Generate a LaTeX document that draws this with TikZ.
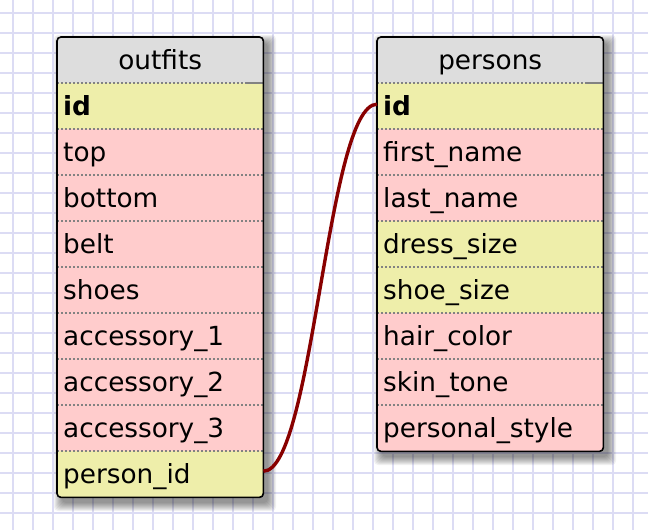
\documentclass[tikz,border=0pt]{standalone}
\usepackage{fontspec}
\setmainfont{DejaVu Sans}
\definecolor{gridc}{RGB}{220,220,244}
\definecolor{headc}{RGB}{221,221,221}
\definecolor{keyc}{RGB}{238,238,170}
\definecolor{fieldc}{RGB}{255,204,204}
\definecolor{sepc}{RGB}{130,130,130}
\definecolor{relc}{RGB}{136,0,0}
\tikzset{
  gridline/.style={draw=gridc, line width=1.3pt},
  cell/.style={rectangle, draw=none, inner xsep=6pt, inner ysep=0pt,
    minimum height=46pt, text height=23pt, text depth=5pt,
    anchor=north west, align=left, font=\fontsize{26.3}{30}\selectfont},
  ocell/.style={cell, text width=194pt},
  pcell/.style={cell, text width=214pt},
  headc/.style={fill=headc, align=center},
  keyrow/.style={fill=keyc},
  fieldrow/.style={fill=fieldc},
  sepline/.style={draw=sepc, line width=1.6pt, dash pattern=on 2pt off 2pt},
  sepsolid/.style={draw=sepc, line width=1.6pt},
  frame/.style={draw=black, line width=1.6pt, rounded corners=4pt},
  shadowlayer/.style={fill=black, opacity=0.055},
  rel/.style={draw=relc, line width=3.4pt}
}
\begin{document}
\begin{tikzpicture}[x=1pt, y=-1pt]
\useasboundingbox (0,0) rectangle (648,530);
\fill[white] (0,0) rectangle (648,530);
% grid
\foreach \gx in {13,33,...,633} \draw[gridline] (\gx,0) -- (\gx,530);
\foreach \gy in {13,33,...,513} \draw[gridline] (0,\gy) -- (648,\gy);
% shadows
\foreach \i in {0,...,8} {
  \fill[shadowlayer, rounded corners=4pt] (57+5-\i,37+6-\i) rectangle (263+5+\i,497+6+\i);
  \fill[shadowlayer, rounded corners=4pt] (377+5-\i,37+6-\i) rectangle (603+5+\i,451+6+\i);
}
% outfits table
\begin{scope}
\clip[rounded corners=4pt] (57,37) rectangle (263,497);
\node[ocell, headc] (o-head) at (57,37) {outfits};
\node[ocell, keyrow] (o-id) at (57,83) {\bfseries id};
\node[ocell, fieldrow] (o-top) at (57,129) {top};
\node[ocell, fieldrow] (o-bottom) at (57,175) {bottom};
\node[ocell, fieldrow] (o-belt) at (57,221) {belt};
\node[ocell, fieldrow] (o-shoes) at (57,267) {shoes};
\node[ocell, fieldrow] (o-acc1) at (57,313) {accessory\_1};
\node[ocell, fieldrow] (o-acc2) at (57,359) {accessory\_2};
\node[ocell, fieldrow] (o-acc3) at (57,405) {accessory\_3};
\node[ocell, keyrow] (o-pid) at (57,451) {person\_id};
\end{scope}
\foreach \r in {o-id,o-top,o-bottom,o-belt,o-shoes,o-acc1,o-acc2,o-acc3,o-pid}
  \draw[sepline] (\r.north west) -- (\r.north east);
\draw[sepsolid] ([xshift=-16pt]o-id.north east) -- (o-id.north east);
\draw[frame] (o-head.north west) rectangle (o-pid.south east);
% persons table
\begin{scope}
\clip[rounded corners=4pt] (377,37) rectangle (603,451);
\node[pcell, headc] (p-head) at (377,37) {persons};
\node[pcell, keyrow] (p-id) at (377,83) {\bfseries id};
\node[pcell, fieldrow] (p-first) at (377,129) {first\_name};
\node[pcell, fieldrow] (p-last) at (377,175) {last\_name};
\node[pcell, keyrow] (p-dress) at (377,221) {dress\_size};
\node[pcell, keyrow] (p-shoe) at (377,267) {shoe\_size};
\node[pcell, fieldrow] (p-hair) at (377,313) {hair\_color};
\node[pcell, fieldrow] (p-skin) at (377,359) {skin\_tone};
\node[pcell, fieldrow] (p-style) at (377,405) {personal\_style};
\end{scope}
\foreach \r in {p-id,p-first,p-last,p-dress,p-shoe,p-hair,p-skin,p-style}
  \draw[sepline] (\r.north west) -- (\r.north east);
\draw[sepsolid] ([xshift=-16pt]p-id.north east) -- (p-id.north east);
\draw[frame] (p-head.north west) rectangle (p-style.south east);
% relation
\draw[rel] ([yshift=3pt]o-pid.east) .. controls +(50,0) and +(-50,0) .. ([yshift=2pt]p-id.west);
\end{tikzpicture}
\end{document}
